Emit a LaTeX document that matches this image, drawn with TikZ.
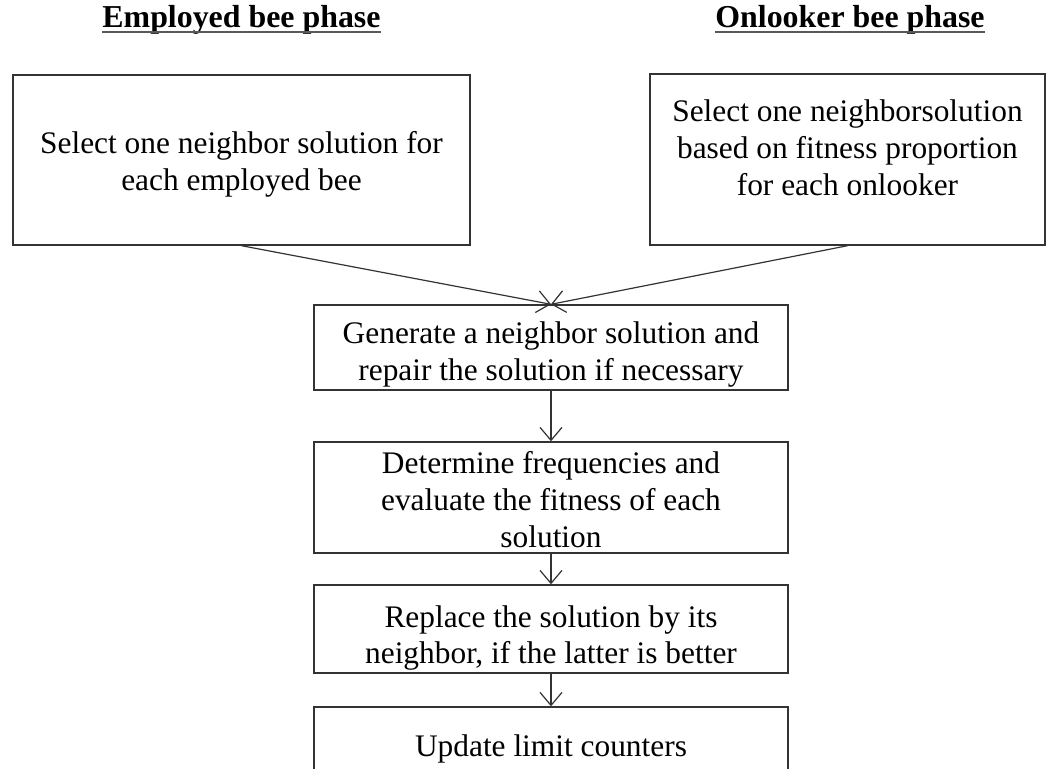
\documentclass[tikz,border=0pt]{standalone}
\usepackage{fontspec}
\setmainfont{Liberation Serif}
\usetikzlibrary{arrows.meta}
\begin{document}
\begin{tikzpicture}[x=1bp,y=-1bp,
  box/.style={draw=black!80, line width=1.4bp, inner sep=0pt},
  txt/.style={align=center, inner sep=0pt, text=black,
    font=\fontsize{31.5}{37}\selectfont},
  title/.style={font=\fontsize{32}{36}\selectfont\bfseries, inner sep=0pt, anchor=base},
  uline/.style={draw=black!65, line width=1.8bp},
  flow/.style={draw=black!80, line width=1.2bp, -{Straight Barb[length=13bp,width=22bp]}}]
  \useasboundingbox (0,0) rectangle (1059,769);
  \clip (0,0) rectangle (1059,769);
  % phase headings with their underlines
  \node[title] (t1) at (241.5,28) {Employed bee phase};
  \node[title] (t2) at (850,28) {Onlooker bee phase};
  \draw[uline] ([yshift=-4bp]t1.base west) -- ([yshift=-4bp]t1.base east);
  \draw[uline] ([yshift=-4bp]t2.base west) -- ([yshift=-4bp]t2.base east);
  % selection boxes
  \node[box, minimum width=457bp, minimum height=170bp,
    label={[txt, yshift=-4bp]center:{Select one neighbor solution for\\ each employed bee}}]
    (lb) at (241.5,160) {};
  \node[box, minimum width=395bp, minimum height=171bp,
    label={[txt, yshift=12bp]center:{Select one neighborsolution\\ based on fitness proportion\\ for each onlooker}}]
    (rb) at (847.5,159.5) {};
  % main flow
  \node[box, minimum width=474bp, minimum height=85bp,
    label={[txt, yshift=-7bp]center:{Generate a neighbor solution and\\ repair the solution if necessary}}]
    (gen) at (551,347.5) {};
  \node[box, minimum width=474bp, minimum height=111bp,
    label={[txt, yshift=-2bp]center:{Determine frequencies and\\ evaluate the fitness of each\\ solution}}]
    (det) at (551,497.5) {};
  \node[box, minimum width=474bp, minimum height=88bp,
    label={[txt, yshift=-9bp]center:{Replace the solution by its\\ neighbor, if the latter is better}}]
    (rep) at (551,629) {};
  \node[box, minimum width=474bp, minimum height=80bp,
    label={[txt, yshift=-2bp]center:{Update limit counters}}]
    (upd) at (551,747) {};
  % connectors
  \draw[flow] (lb.south) -- (gen.north);
  \draw[flow] (rb.south) -- (gen.north);
  \draw[flow] (gen) -- (det);
  \draw[flow] (det) -- (rep);
  \draw[flow] (rep) -- (upd);
\end{tikzpicture}
\end{document}
